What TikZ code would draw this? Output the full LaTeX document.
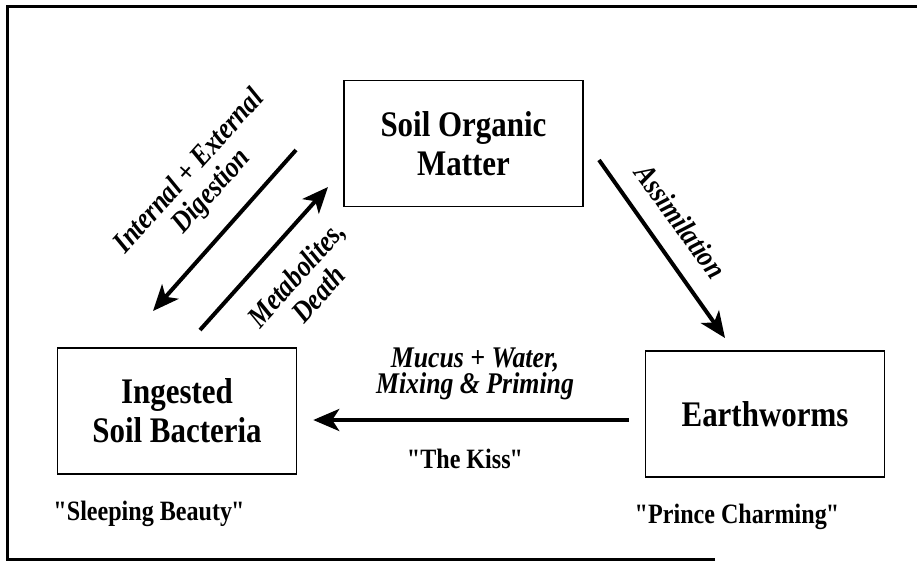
\documentclass[tikz,border=0pt]{standalone}
\usepackage{fontspec}
\setmainfont{Liberation Serif}[FakeStretch=0.86]
\usetikzlibrary{arrows.meta,positioning}

\newcommand{\qq}[1]{\textquotedbl\kern-2pt#1\kern-1pt\textquotedbl}

\tikzset{
  box/.style={draw,line width=1.5pt,minimum width=239pt,minimum height=126pt,
    align=center,font=\fontsize{36}{39}\selectfont\bfseries},
  flow/.style={line width=4pt,-{Stealth[length=26pt,width=22pt,inset=7pt]}},
  lab/.style={align=center,font=\fontsize{30}{26}\selectfont\bfseries\itshape},
  slant/.style={lab,font=\fontsize{30}{30}\selectfont\bfseries\itshape},
  nickname/.style={font=\fontsize{28}{30}\selectfont\bfseries}
}

\begin{document}
\begin{tikzpicture}[x=1pt,y=-1pt]
   \useasboundingbox (0,0) rectangle (917,563);
   % frame
   \draw[line width=3pt] (715,559) -- (7,559) -- (7,6) -- (930,6);

   \node[box] (som) at (463.5,143.5) {Soil Organic\\Matter};
   \node[box] (isb) at (177,411) {Ingested\\Soil Bacteria};
   \node[box] (ew) at (765,414) {Earthworms};

   % ends of the slanted arrows
   \coordinate (dig1) at (296,150);
   \coordinate (dig2) at (153,311);
   \coordinate (met1) at (200,330);
   \coordinate (met2) at (328,187);
   \coordinate (as1) at (599,160);
   \coordinate (as2) at (725,338);

   \draw[flow] (dig1) -- (dig2);
   \draw[flow] (met1) -- (met2);
   \draw[flow] (as1) -- (as2);
   \draw[flow,shorten <=16pt,shorten >=16pt] ([yshift=-6pt]ew.west) -- ([yshift=-6pt]ew.west -| isb.east);

   \node[slant,rotate=48] (digl) at (201,182) {Internal + External\\Digestion};
   \node[slant,rotate=48] (metl) at (307,284) {Metabolites,\\Death};
   \node[lab,rotate=-54] (asl) at (681,221) {Assimilation};
   \node[lab] (mucl) at (475,374) {Mucus + Water,\\Mixing \& Priming};

   \node[nickname,anchor=base] (kiss) at (466,468) {\qq{The Kiss}};
   \node[nickname,anchor=base] (beauty) at (150,520) {\qq{Sleeping Beauty}};
   \node[nickname,anchor=base] (prince) at (738,523) {\qq{Prince Charming}};
\end{tikzpicture}
\end{document}
